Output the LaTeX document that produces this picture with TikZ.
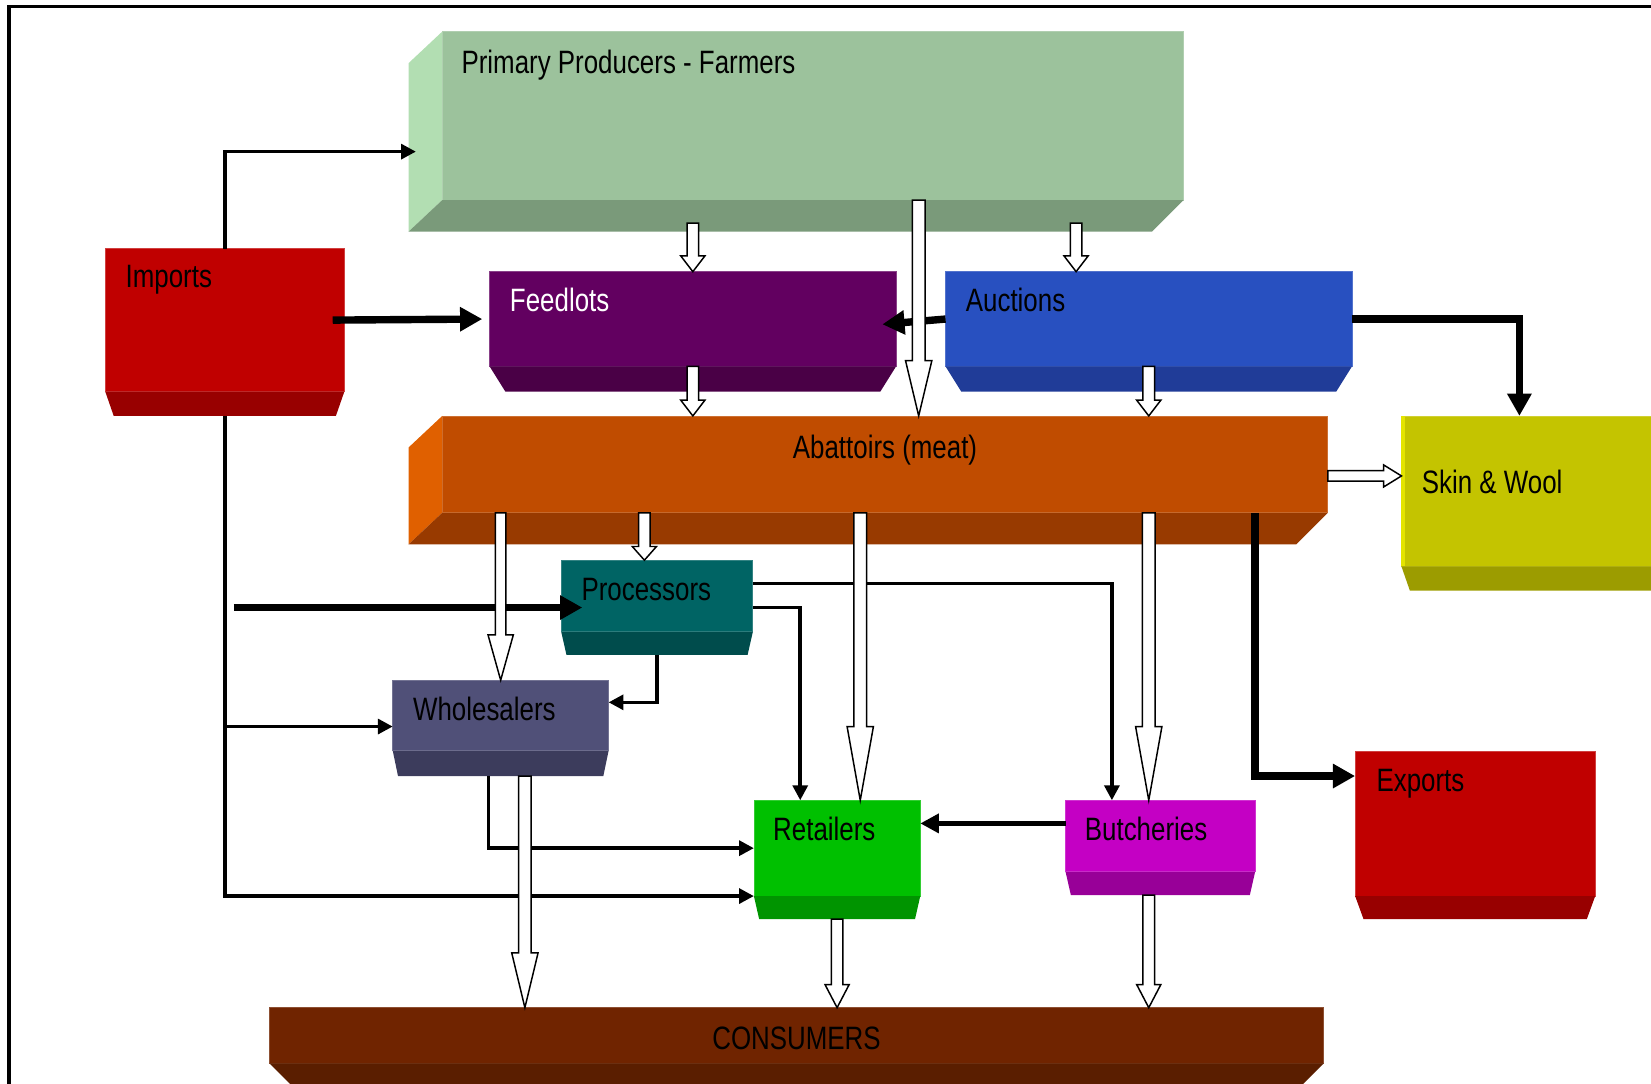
\documentclass[tikz,border=0pt]{standalone}
\usepackage{fontspec}
\setmainfont{Liberation Sans}[FakeStretch=0.8]
\usepackage{xcolor}
\usetikzlibrary{arrows.meta,calc,fit}

\definecolor{primFront}{HTML}{9CC29C}
\definecolor{primSide}{HTML}{B2DEB2}
\definecolor{primBot}{HTML}{7A9A7A}
\definecolor{importsFront}{HTML}{C00000}
\definecolor{importsBot}{HTML}{980000}
\definecolor{exportsFront}{HTML}{C00000}
\definecolor{exportsBot}{HTML}{980000}
\definecolor{feedFront}{HTML}{620060}
\definecolor{feedBot}{HTML}{4A0046}
\definecolor{auctFront}{HTML}{2850C0}
\definecolor{auctBot}{HTML}{203C98}
\definecolor{abatFront}{HTML}{C04C00}
\definecolor{abatSide}{HTML}{E06000}
\definecolor{abatBot}{HTML}{983A00}
\definecolor{skinFront}{HTML}{C4C400}
\definecolor{skinSide}{HTML}{E4E400}
\definecolor{skinBot}{HTML}{9C9C00}
\definecolor{procFront}{HTML}{006464}
\definecolor{procBot}{HTML}{004C4C}
\definecolor{wholeFront}{HTML}{505078}
\definecolor{wholeBot}{HTML}{3C3C5C}
\definecolor{retailFront}{HTML}{00C000}
\definecolor{retailBot}{HTML}{009400}
\definecolor{butchFront}{HTML}{C400C4}
\definecolor{butchBot}{HTML}{980098}
\definecolor{consFront}{HTML}{702400}
\definecolor{consBot}{HTML}{5A1E00}

% bottom face of a box: node, colour, depth, inset
\newcommand{\boxBottom}[4]{
  \fill[#2] (#1.south west) -- (#1.south east) -- ++(-#4,#3) -- ($(#1.south west)+(#4,#3)$) -- cycle;
}
% left face and bottom face of a long slab
\newcommand{\boxSlab}[3]{
  \fill[#2] (#1.north west) -- ++(-32,30) -- ($(#1.south west)+(-32,30)$) -- (#1.south west) -- cycle;
  \fill[#3] (#1.south west) -- (#1.south east) -- ++(-30,30) -- ($(#1.south west)+(-32,30)$) -- cycle;
}
% hollow arrow: from, to, half shaft, half head, head length
\newcommand{\hollowArrow}[5]{
  \path (#1) coordinate (ha0) (#2) coordinate (ha1);
  \path ($(ha1)!#5!(ha0)$) coordinate (han);
  \draw[hollowDecorate] ($(ha0)!#3!90:(ha1)$) -- ($(han)!#3!-90:(ha0)$) -- ($(han)!#4!-90:(ha0)$) -- (ha1)
    -- ($(han)!#4!90:(ha0)$) -- ($(han)!#3!90:(ha0)$) -- ($(ha0)!#3!-90:(ha1)$) -- cycle;
}

\begin{document}
\begin{tikzpicture}
[x=0.02cm, y=-0.02cm,
 boxDecorate/.style={inner sep=0pt, outer sep=0pt, line width=0.4pt},
 textDecorate/.style={anchor=base west, inner sep=0pt, font=\fontsize{17.5}{20}\selectfont},
 thinDecorate/.style={-{Triangle[length=8pt,width=8pt]}, line width=1.9pt},
 medDecorate/.style={-{Triangle[length=10pt,width=10pt]}, line width=2.8pt},
 thickDecorate/.style={-{Triangle[length=12pt,width=12.5pt]}, line width=4pt},
 hollowDecorate/.style={draw=black, fill=white, line width=0.8pt, line join=miter}]

 \useasboundingbox (0,0) rectangle (1568,1029);
 \draw[line width=0.06cm] (8.5,1040) -- (8.5,6) -- (1580,6);

 % front faces
 \node (prim) [boxDecorate, fill=primFront, draw=primFront!80!white, fit={(420,30) (1124,190)}] {};
 \node (imports) [boxDecorate, fill=importsFront, draw=importsFront!75!white, fit={(100,236) (327,372)}] {};
 \node (feed) [boxDecorate, fill=feedFront, draw=feedFront!75!white, fit={(465,258) (851,348)}] {};
 \node (auct) [boxDecorate, fill=auctFront, draw=auctFront!80!white, fit={(898,258) (1284,348)}] {};
 \node (abat) [boxDecorate, fill=abatFront, draw=abatFront!80!white, fit={(420,395) (1261,487)}] {};
 \node (skin) [boxDecorate, fill=skinFront, draw=skinFront!80!white, fit={(1331,395) (1600,538)}] {};
 \node (proc) [boxDecorate, fill=procFront, draw=procFront!80!white, fit={(533,532) (715,600)}] {};
 \node (whole) [boxDecorate, fill=wholeFront, draw=wholeFront!80!white, fit={(373,646) (578,713)}] {};
 \node (retail) [boxDecorate, fill=retailFront, draw=retailFront!80!white, fit={(716,760) (874,851)}] {};
 \node (butch) [boxDecorate, fill=butchFront, draw=butchFront!80!white, fit={(1012,760) (1192,828)}] {};
 \node (exports) [boxDecorate, fill=exportsFront, draw=exportsFront!75!white, fit={(1287,714) (1515,851)}] {};
 \node (cons) [boxDecorate, fill=consFront, draw=consFront!80!white, fit={(256,957) (1257,1010)}] {};

 % bottom and side faces
 \foreach \n/\c/\d/\s in {imports/importsBot/23/8, feed/feedBot/24/15, auct/auctBot/24/15,
   skin/skinBot/23/8, proc/procBot/22/5, whole/wholeBot/24/5, retail/retailBot/22/5,
   butch/butchBot/22/5, exports/exportsBot/22/8, cons/consBot/30/30}
 {
   \boxBottom{\n}{\c}{\d}{\s}
 }
 \boxSlab{prim}{primSide}{primBot}
 \boxSlab{abat}{abatSide}{abatBot}
 \fill[skinSide] (skin.north west) rectangle ($(skin.south west)+(3,0)$);

 % labels
 \node (primText) [textDecorate] at ($(prim.north west)+(18,40)$) {Primary Producers - Farmers};
 \node (importsText) [textDecorate] at ($(imports.north west)+(19,37)$) {Imports};
 \node (feedText) [textDecorate, text=white] at ($(feed.north west)+(19,38)$) {Feedlots};
 \node (auctText) [textDecorate] at ($(auct.north west)+(19,38)$) {Auctions};
 \node (abatText) [textDecorate, anchor=base] at ($(abat.north)+(0,40)$) {Abattoirs (meat)};
 \node (skinText) [textDecorate] at ($(skin.north west)+(19,74)$) {Skin \& Wool};
 \node (procText) [textDecorate] at ($(proc.north west)+(19,38)$) {Processors};
 \node (wholeText) [textDecorate] at ($(whole.north west)+(19,38)$) {Wholesalers};
 \node (retailText) [textDecorate] at ($(retail.north west)+(18,38)$) {Retailers};
 \node (butchText) [textDecorate] at ($(butch.north west)+(18,38)$) {Butcheries};
 \node (exportsText) [textDecorate] at ($(exports.north west)+(20,38)$) {Exports};
 \node (consText) [textDecorate, anchor=base] at ($(cons.north)+(0,40)$) {CONSUMERS};

 % solid connectors
 \coordinate (primIn) at (395,144);
 \coordinate (procIn) at (222,577);
 \coordinate (wholeIn) at ($(whole.west)+(0,10.5)$);
 \coordinate (procOutA) at ($(proc.east)+(0,-12)$);
 \coordinate (procOutB) at ($(proc.east)+(0,11)$);
 \coordinate (butchOut) at ($(butch.west)+(0,-12)$);

 \draw[thinDecorate] (imports.north) |- (primIn);
 \draw[thinDecorate] ($(imports.south)+(0,23)$) |- (retail.south west);
 \draw[thinDecorate] (imports.south |- wholeIn) -- (wholeIn);
 \draw[thinDecorate] (procOutA) -| ($(butch.north west)+(44,0)$);
 \draw[thinDecorate] (procOutB) -| ($(retail.north west)+(44,0)$);
 \draw[thinDecorate] ($(proc.south)+(0,22)$) |- ($(whole.east)+(0,-12.5)$);
 \draw[thinDecorate] ($(whole.south)+(-11.5,24)$) |- (retail.west);
 \draw[medDecorate] (butchOut) -- (retail.east |- butchOut);

 \draw[thickDecorate] ($(imports.east)+(-11,0)$) -- ($(feed.west)+(-7,0)$);
 \draw[thickDecorate] (procIn) -- ($(proc.west |- procIn)+(20,0)$);
 \draw[thickDecorate] (auct.west) -- ($(feed.east)+(-13,5)$);
 \draw[thickDecorate] (auct.east) -| ($(skin.north west)+(112,0)$);
 \draw[thickDecorate] ($(abat.south east)+(-69,0)$) |- ($(exports.north west)+(0,23)$);

 % hollow flows
 \hollowArrow{$(feed.north |- prim.south)+(0,22)$}{feed.north}{0.11cm}{0.23cm}{0.3cm}
 \hollowArrow{$(auct.north west |- prim.south)+(124,22)$}{$(auct.north west)+(124,0)$}{0.11cm}{0.23cm}{0.3cm}
 \hollowArrow{$(abat.north |- prim.south)+(32,0)$}{$(abat.north)+(32,0)$}{0.12cm}{0.25cm}{1.05cm}
 \hollowArrow{feed.south}{feed.south |- abat.north}{0.11cm}{0.23cm}{0.3cm}
 \hollowArrow{auct.south}{auct.south |- abat.north}{0.11cm}{0.23cm}{0.3cm}
 \hollowArrow{$(abat.east)+(0,11)$}{$(skin.west |- abat.east)+(0,11)$}{0.1cm}{0.21cm}{0.34cm}
 \hollowArrow{whole.north |- abat.south}{whole.north}{0.1cm}{0.24cm}{0.86cm}
 \hollowArrow{$(proc.north |- abat.south)+(-12,0)$}{$(proc.north)+(-12,0)$}{0.11cm}{0.23cm}{0.26cm}
 \hollowArrow{$(retail.north |- abat.south)+(22,0)$}{$(retail.north)+(22,0)$}{0.12cm}{0.25cm}{1.4cm}
 \hollowArrow{$(butch.north |- abat.south)+(-11,0)$}{$(butch.north)+(-11,0)$}{0.12cm}{0.25cm}{1.4cm}
 \hollowArrow{$(whole.south)+(23,24)$}{$(whole.south |- cons.north)+(23,0)$}{0.12cm}{0.25cm}{1.04cm}
 \hollowArrow{$(retail.south)+(0,22)$}{retail.south |- cons.north}{0.11cm}{0.23cm}{0.44cm}
 \hollowArrow{$(butch.south)+(-11,22)$}{$(butch.south |- cons.north)+(-11,0)$}{0.11cm}{0.23cm}{0.44cm}
\end{tikzpicture}
\end{document}
